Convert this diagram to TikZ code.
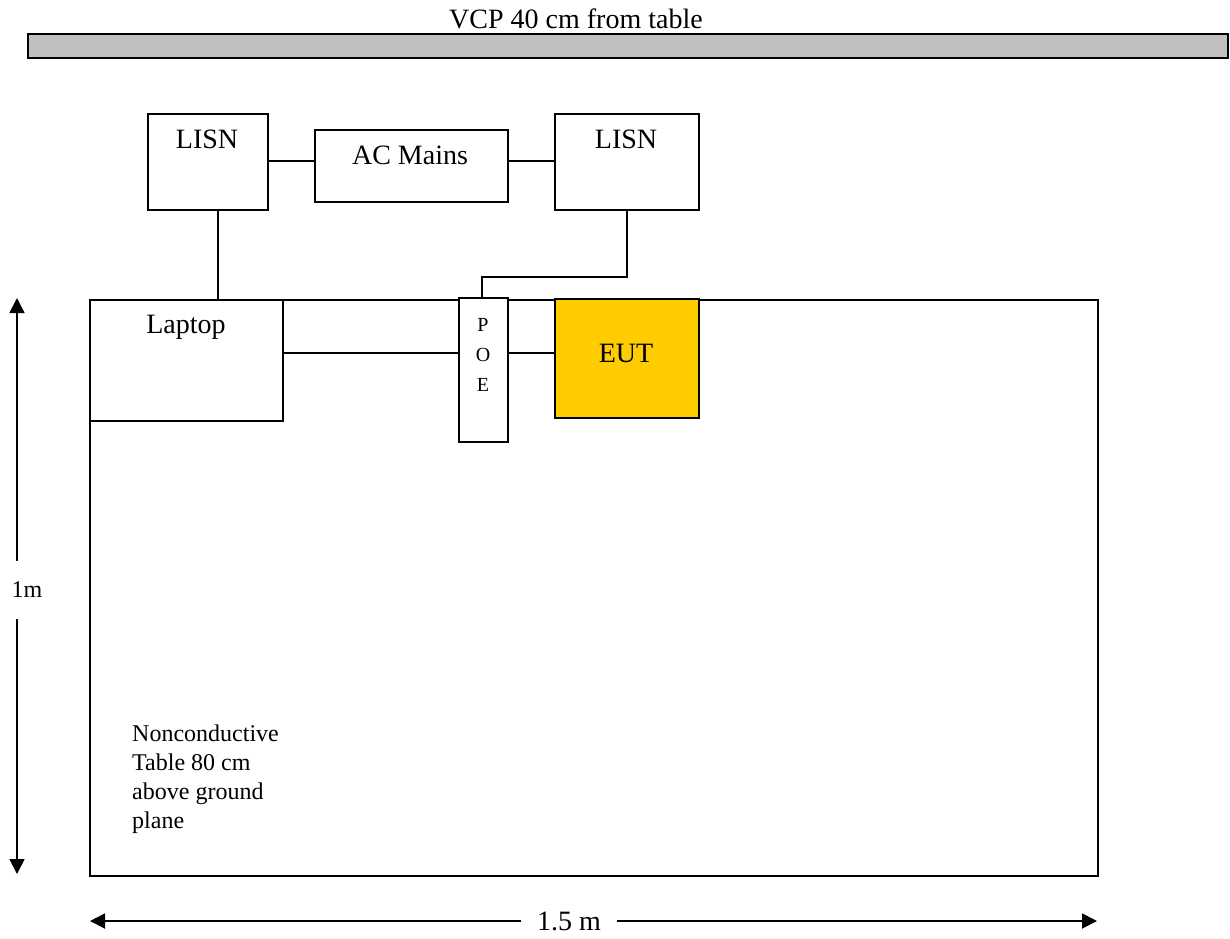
\documentclass[tikz,border=0pt]{standalone}
\usepackage{fontspec}
\setmainfont{Liberation Serif}
\usetikzlibrary{positioning,arrows.meta}
\definecolor{vcpgray}{HTML}{C0C0C0}
\definecolor{eutyellow}{HTML}{FFCC00}

\begin{document}
\begin{tikzpicture}[
    x=1pt, y=-1pt,
    box/.style={draw, line width=1.6pt, inner sep=0pt, anchor=north west},
    lbl/.style={font=\fontsize{28}{34}\selectfont, inner sep=0pt, anchor=base},
    note/.style={font=\fontsize{24}{29}\selectfont, inner sep=0pt, align=left},
    w/.style={line width=1.6pt},
    dim/.style={line width=1.8pt, -{Triangle[length=15pt,width=15pt]}}
]
    \useasboundingbox (0,0) rectangle (1230,938);

    \node[box, fill=vcpgray, minimum width=1200pt, minimum height=24pt] (vcp) at (27,33) {};
    \node[lbl] (vcpttl) at (576,28) {VCP 40 cm from table};

    \node[box, minimum width=120pt, minimum height=96pt] (lisnA) at (147,113) {};
    \node[box, minimum width=193pt, minimum height=72pt] (mains) at (314,129) {};
    \node[box, minimum width=144pt, minimum height=96pt] (lisnB) at (554,113) {};
    \node[lbl] (lisnAtxt) at (207,148) {LISN};
    \node[lbl] (mainstxt) at (410,164) {AC Mains};
    \node[lbl] (lisnBtxt) at (626,148) {LISN};

    \node[box, line width=2pt, minimum width=1008pt, minimum height=576pt] (tbl) at (89,299) {};
    \node[box, minimum width=193pt, minimum height=121pt] (laptop) at (89,299) {};
    \node[box, fill=white, minimum width=49pt, minimum height=144pt] (poe) at (458,297) {};
    \node[box, fill=eutyellow, minimum width=144pt, minimum height=119pt] (eut) at (554,298) {};
    \node[lbl] (laptoptxt) at (186,333) {Laptop};
    \node[lbl] (euttxt) at (626,362) {EUT};
    \node[lbl, font=\fontsize{20}{30}\selectfont, align=center, anchor=north] (poetxt) at (483,318) {P\\O\\E};

    \node[note, anchor=north west] (tbltxt) at (132,725) {Nonconductive\\Table 80 cm\\above ground\\plane};

    \draw[w] (lisnA.east |- 0,161) -- (mains.west |- 0,161);
    \draw[w] (mains.east |- 0,161) -- (lisnB.west |- 0,161);
    \draw[w] (lisnA.south -| 218,0) -- (laptop.north -| 218,0);
    \draw[w] (lisnB.south) |- (482,277) -- (poe.north -| 482,0);
    \draw[w] (laptop.east |- 0,353) -- (poe.west |- 0,353);
    \draw[w] (poe.east |- 0,353) -- (eut.west |- 0,353);

    \coordinate (vtop) at (17,298);
    \coordinate (vbot) at (17,874);
    \node[lbl, font=\fontsize{24}{29}\selectfont, anchor=center, minimum height=58pt] (vlbl) at (27,590) {1m};
    \draw[dim] (vlbl.north -| vtop) -- (vtop);
    \draw[dim] (vlbl.south -| vtop) -- (vbot);

    \coordinate (hleft) at (90,921);
    \coordinate (hright) at (1097,921);
    \node[lbl, anchor=center, minimum width=95pt] (hlbl) at (569,921) {1.5 m};
    \draw[dim] (hlbl.west) -- (hleft);
    \draw[dim] (hlbl.east) -- (hright);
\end{tikzpicture}
\end{document}
